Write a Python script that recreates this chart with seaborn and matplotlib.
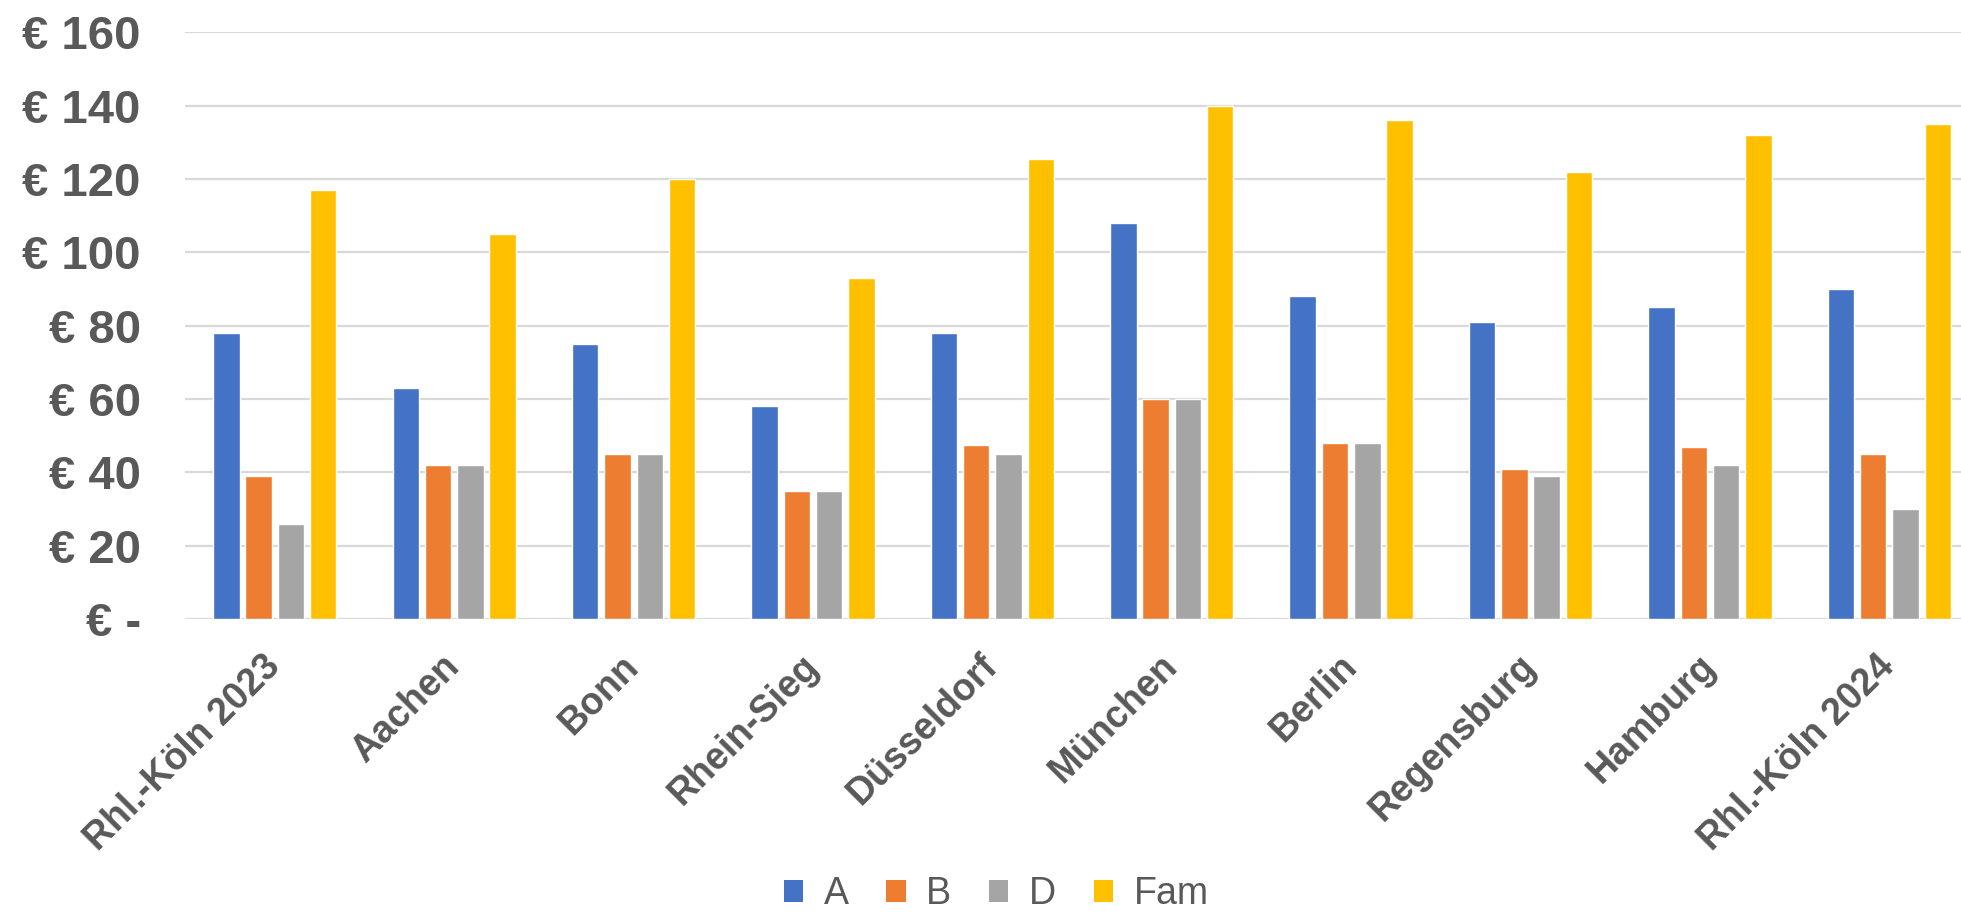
import matplotlib
matplotlib.use("Agg")
import matplotlib.pyplot as plt
from matplotlib.ticker import FuncFormatter, MultipleLocator
from matplotlib.patches import Patch
import pandas as pd
import seaborn as sns

# Regions compared
regions = ["Rhl.-Köln 2023", "Aachen", "Bonn", "Rhein-Sieg", "Düsseldorf",
           "München", "Berlin", "Regensburg", "Hamburg", "Rhl.-Köln 2024"]

# Monthly price per ticket type (EUR)
price_a = [78, 63, 75, 58, 78, 108, 88, 81, 85, 90]
price_b = [39, 42, 45, 35, 47.5, 60, 48, 41, 47, 45]
price_d = [26, 42, 45, 35, 45, 60, 48, 39, 42, 30]
price_fam = [117, 105, 120, 93, 125.5, 140, 136, 122, 132, 135]

series_names = ["A", "B", "D", "Fam"]
series_colors = ["#4472C4", "#ED7D31", "#A5A5A5", "#FFC000"]

rows = []
for name, vals in zip(series_names, [price_a, price_b, price_d, price_fam]):
    for region, v in zip(regions, vals):
        rows.append({"Region": region, "Tarif": name, "Preis": v})
df = pd.DataFrame(rows)

sns.set_theme(style="white")
plt.rcParams["font.family"] = ["Liberation Sans", "DejaVu Sans"]

text_color = "#595959"
fig = plt.figure(figsize=(19.61, 9.15), dpi=100)
# plot area runs slightly past the right edge of the canvas
ax = fig.add_axes([0.0944, 0.3235, 0.9148, 0.6410])

sns.barplot(data=df, x="Region", y="Preis", hue="Tarif", order=regions,
            hue_order=series_names, palette=series_colors, width=0.72,
            gap=0.18, saturation=1, ax=ax, legend=False, zorder=3)

ax.set_ylim(0, 160)
ax.set_xlim(-0.5, len(regions) - 0.5)
ax.yaxis.set_major_locator(MultipleLocator(20))
ax.yaxis.set_major_formatter(FuncFormatter(
    lambda v, _: "€ -" if v == 0 else f"€ {int(v)}"))
ax.grid(axis="y", color="#D9D9D9", linewidth=1.6, zorder=0)
ax.set_axisbelow(True)
for s in ax.spines.values():
    s.set_visible(False)
ax.set_xlabel("")
ax.set_ylabel("")

ax.tick_params(axis="y", length=0, pad=32, labelsize=34, labelcolor=text_color)
ax.tick_params(axis="x", length=0, pad=30, labelsize=27, labelcolor=text_color)
for lbl in ax.get_yticklabels():
    lbl.set_fontweight("bold")
for lbl in ax.get_xticklabels():
    lbl.set_fontweight("bold")
    lbl.set_rotation(45)
    lbl.set_ha("right")
    lbl.set_va("center")
    lbl.set_rotation_mode("anchor")

handles = [Patch(facecolor=c, edgecolor="none") for c in series_colors]
fig.legend(handles, series_names, loc="lower center", ncol=4,
           bbox_to_anchor=(0.508, -0.034), frameon=False, fontsize=27,
           labelcolor=text_color, handlelength=0.52, handleheight=0.52,
           handletextpad=0.55, columnspacing=1.0)

fig.savefig("out.png", dpi=100)
